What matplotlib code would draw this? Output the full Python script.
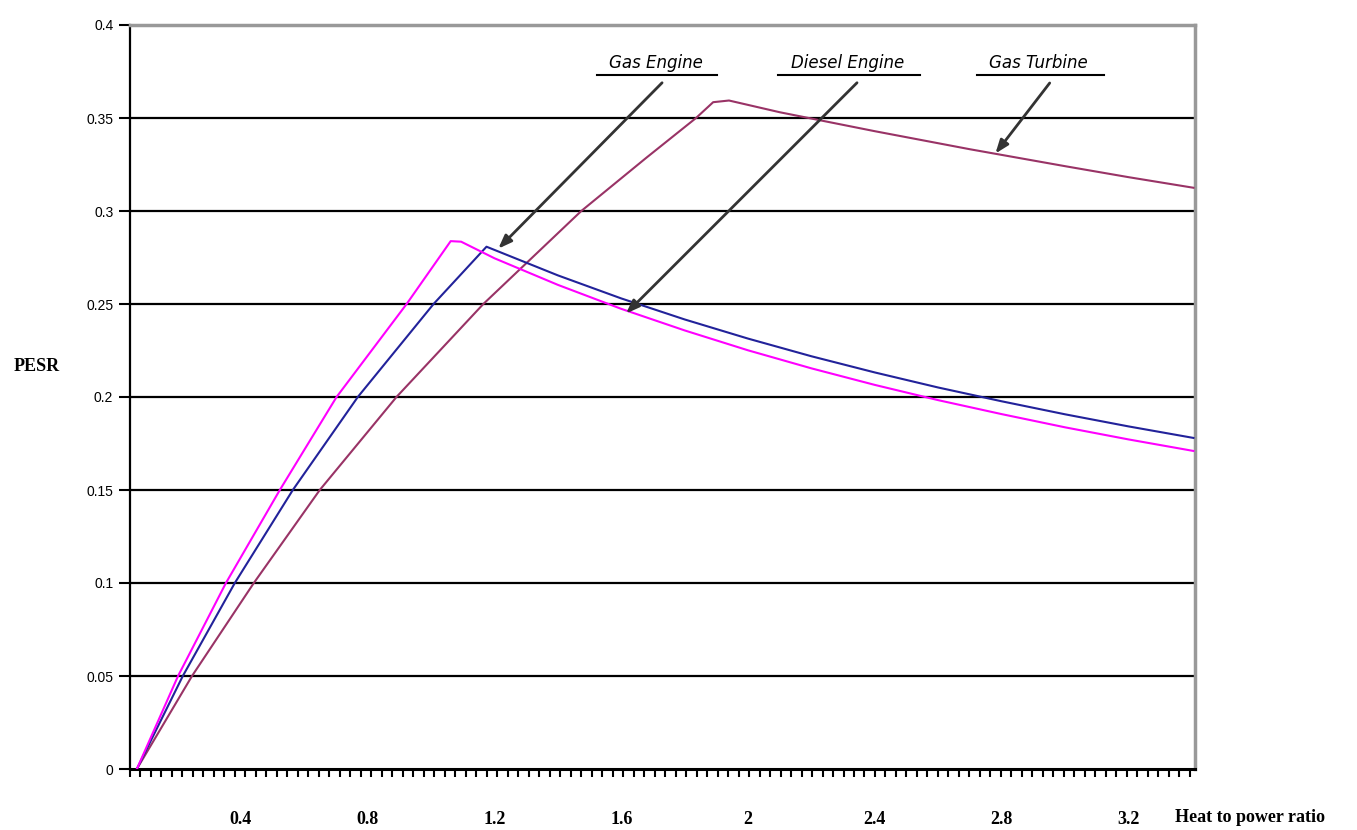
import matplotlib.pyplot as plt
from matplotlib.lines import Line2D
import numpy as np

# values
gas_engine_x = [0.072, 0.217, 0.381, 0.564, 0.769, 1.008, 1.175, 1.4, 1.6, 1.8, 2.0, 2.2, 2.4,
                2.6, 2.8, 3.0, 3.2, 3.405]
gas_engine_y = [0.0, 0.05, 0.10, 0.15, 0.20, 0.25, 0.2808, 0.2654, 0.2530, 0.2417, 0.2314, 0.2219,
                0.2132, 0.2051, 0.1977, 0.1907, 0.1842, 0.178]

diesel_x = [0.072, 0.202, 0.353, 0.523, 0.702, 0.923, 1.062, 1.095, 1.2, 1.4, 1.6, 1.8, 2.0, 2.2,
            2.4, 2.6, 2.8, 3.0, 3.2, 3.405]
diesel_y = [0.0, 0.05, 0.10, 0.15, 0.20, 0.25, 0.2838, 0.2835, 0.2746, 0.2603, 0.2474, 0.2358,
            0.2251, 0.2154, 0.2065, 0.1983, 0.1908, 0.1837, 0.1772, 0.171]

turbine_x = [0.072, 0.246, 0.441, 0.649, 0.891, 1.165, 1.474, 1.679, 1.836, 1.89, 1.94,
             2.1, 2.4, 2.7, 3.0, 3.2, 3.405]
turbine_y = [0.0, 0.05, 0.10, 0.15, 0.20, 0.25, 0.30, 0.3286, 0.35, 0.3585, 0.3594,
             0.3531, 0.3429, 0.3332, 0.3241, 0.3182, 0.3125]

x_labels = [0.4, 0.8, 1.2, 1.6, 2.0, 2.4, 2.8, 3.2]
y_ticks = [0, 0.05, 0.1, 0.15, 0.2, 0.25, 0.3, 0.35, 0.4]
y_labels = ["0", "0.05", "0.1", "0.15", "0.2", "0.25", "0.3", "0.35", "0.4"]

fig = plt.figure(figsize=(13.57, 8.30), dpi=100)
ax = fig.add_axes([130 / 1357, 1 - 769 / 830, (1195 - 130) / 1357, (769 - 25) / 830])

x0, x1 = 0.0504, 3.41
ax.set_xlim(x0, x1)
ax.set_ylim(0, 0.4)

for y in y_ticks[1:-1]:
    ax.axhline(y, color="black", lw=1.6, zorder=1)

ax.plot(turbine_x, turbine_y, color="#993366", lw=1.5, zorder=3)
ax.plot(gas_engine_x, gas_engine_y, color="#22229a", lw=1.5, zorder=3)
ax.plot(diesel_x, diesel_y, color="#ff00ff", lw=1.5, zorder=3)

# spines
ax.spines["left"].set_color("black")
ax.spines["left"].set_linewidth(1.6)
ax.spines["bottom"].set_color("black")
ax.spines["bottom"].set_linewidth(2.2)
ax.spines["top"].set_color("#999999")
ax.spines["top"].set_linewidth(2.5)
ax.spines["right"].set_color("#999999")
ax.spines["right"].set_linewidth(2.5)

ax.set_yticks(y_ticks)
ax.set_yticklabels(y_labels, fontfamily="Liberation Sans", fontsize=10)
ax.tick_params(axis="y", direction="out", length=8, width=1.5, pad=4)

ax.set_xticks(x_labels)
ax.set_xticklabels(["0.4", "0.8", "1.2", "1.6", "2", "2.4", "2.8", "3.2"],
                   fontfamily="Liberation Serif", fontweight="bold", fontsize=13)
ax.tick_params(axis="x", which="major", length=0, pad=30)
ax.set_xticks(np.arange(x0, x1, 0.0331), minor=True)
ax.tick_params(axis="x", which="minor", direction="out", length=6, width=1.5)

fig.text(37 / 1357, 1 - 366 / 830, "PESR", fontfamily="Liberation Serif",
         fontweight="bold", fontsize=13, ha="center", va="center")
fig.text(1250 / 1357, 1 - 817 / 830, "Heat to power ratio", fontfamily="Liberation Serif",
         fontweight="bold", fontsize=13, ha="center", va="center")

# callouts
callouts = [
    ("Gas Engine", 1.710, 1.735, 1.206, 0.2787, 597, 717),
    ("Diesel Engine", 2.315, 2.350, 1.609, 0.2438, 778, 920),
    ("Gas Turbine", 2.917, 2.957, 2.775, 0.3297, 977, 1104),
]
for name, lx, ax_from, hx, hy, ul0, ul1 in callouts:
    ax.text(lx, 0.3796, name, fontfamily="DejaVu Sans", style="italic",
            fontsize=12, ha="center", va="center", zorder=5)
    ax.annotate("", xy=(hx, hy), xytext=(ax_from, 0.370),
                arrowprops=dict(arrowstyle="-|>,head_length=0.8,head_width=0.3",
                                color="#333333", lw=2.0), zorder=4)
    fig.add_artist(Line2D([ul0 / 1357, ul1 / 1357], [1 - 75 / 830, 1 - 75 / 830],
                          color="black", lw=1.5))

fig.savefig("out.png", dpi=100)
